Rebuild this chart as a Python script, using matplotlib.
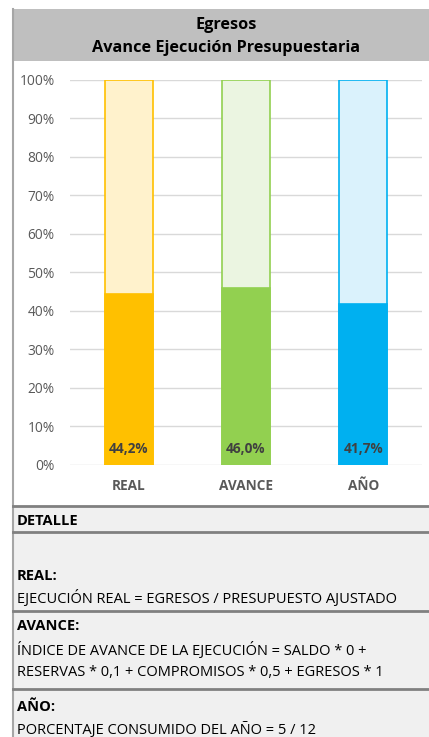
import matplotlib
matplotlib.use("Agg")
import matplotlib.pyplot as plt
from matplotlib.patches import Rectangle

plt.rcParams['font.family'] = ['Open Sans', 'DejaVu Sans']

# datos
categorias = ["REAL", "AVANCE", "AÑO"]
valores = [0.442, 0.460, 0.417]
etiquetas = ["44,2%", "46,0%", "41,7%"]
colores = ["#FFC000", "#92D050", "#00B0F0"]
colores_fondo = ["#FFF2CC", "#EBF5E1", "#DAF2FC"]
ticks_y = [0, 0.1, 0.2, 0.3, 0.4, 0.5, 0.6, 0.7, 0.8, 0.9, 1.0]
titulo = ["Egresos", "Avance Ejecución Presupuestaria"]

W, H = 429, 737
fig = plt.figure(figsize=(W / 100, H / 100), dpi=100)
fig.patch.set_facecolor("white")

# capa de fondo en pixeles
bg = fig.add_axes([0, 0, 1, 1], zorder=0)
bg.set_xlim(0, W)
bg.set_ylim(H, 0)
bg.axis("off")
bg.add_patch(Rectangle((13, 9), W, 52, facecolor="#BFBFBF", edgecolor="none"))
bg.add_patch(Rectangle((13, 506), W, H - 506, facecolor="#F0F0F0", edgecolor="none"))
bg.plot([13, 13], [9, H], color="#A6A6A6", lw=1.5)
for yy in [506, 532, 611, 689]:
    bg.plot([13, W], [yy, yy], color="#808080", lw=2)
bg.text(226, 25, titulo[0], ha="center", va="center", fontsize=11.7,
        fontweight="bold", color="#000000")
bg.text(226, 48, titulo[1], ha="center", va="center", fontsize=11.7,
        fontweight="bold", color="#000000")

# textos del detalle
fs = 10.5
bg.text(17, 521, "DETALLE", fontsize=fs, fontweight="bold", va="center")
bg.text(17, 576, "REAL:", fontsize=fs, fontweight="bold", va="center")
bg.text(17, 598, "EJECUCIÓN REAL = EGRESOS / PRESUPUESTO AJUSTADO", fontsize=fs, va="center")
bg.text(17, 626, "AVANCE:", fontsize=fs, fontweight="bold", va="center")
bg.text(17, 650, "ÍNDICE DE AVANCE DE LA EJECUCIÓN = SALDO * 0 +", fontsize=fs, va="center")
bg.text(17, 673, "RESERVAS * 0,1 + COMPROMISOS * 0,5 + EGRESOS * 1", fontsize=fs, va="center")
bg.text(17, 707, "AÑO:", fontsize=fs, fontweight="bold", va="center")
bg.text(17, 730, "PORCENTAJE CONSUMIDO DEL AÑO = 5 / 12", fontsize=fs, va="center")

# grafico
ax = fig.add_axes([70 / W, 1 - 464.7 / H, 352 / W, (464.7 - 79.5) / H], zorder=1)
ax.patch.set_alpha(0)
x = list(range(len(categorias)))
ax.bar(x, [1] * len(x), width=0.41, color=colores_fondo, edgecolor=colores, linewidth=1.2, zorder=2)
ax.bar(x, valores, width=0.41, color=colores, edgecolor=colores, linewidth=1.2, zorder=3)
for xi, et in zip(x, etiquetas):
    ax.text(xi, 0.04, et, ha="center", va="center", fontsize=9.8,
            fontweight="bold", color="#404040", zorder=4)

ax.set_xlim(-0.5, 2.5)
ax.set_ylim(0, 1)
ax.set_yticks(ticks_y)
ax.set_yticklabels([f"{int(round(t * 100))}%" for t in ticks_y])
ax.set_xticks(x)
ax.set_xticklabels(categorias, fontweight="bold")
ax.grid(axis="y", color="#D9D9D9", lw=1, zorder=0)
ax.set_axisbelow(True)
for s in ax.spines.values():
    s.set_visible(False)
ax.tick_params(axis="y", length=0, pad=11, labelsize=9.9, labelcolor="#595959")
ax.tick_params(axis="x", length=0, pad=10, labelsize=9.8, labelcolor="#595959")

fig.savefig("out.png", dpi=100)
